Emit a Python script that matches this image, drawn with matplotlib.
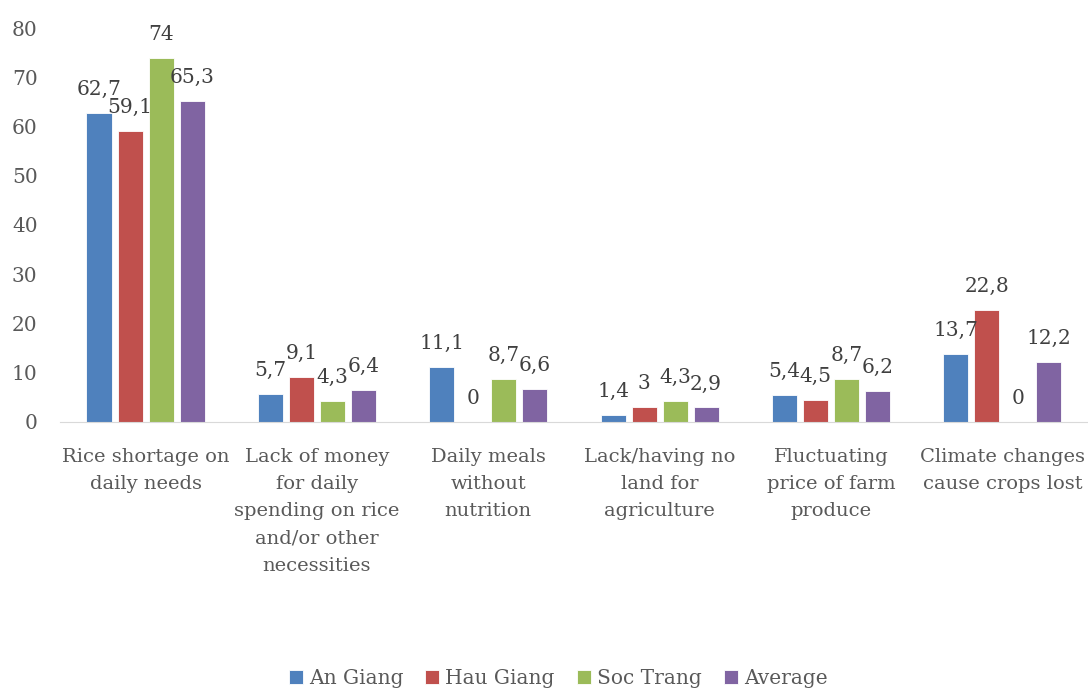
import numpy as np
import matplotlib.pyplot as plt

plt.rcParams['font.family'] = ['DejaVu Serif']

categories = ["Rice shortage on\ndaily needs",
              "Lack of money\nfor daily\nspending on rice\nand/or other\nnecessities",
              "Daily meals\nwithout\nnutrition",
              "Lack/having no\nland for\nagriculture",
              "Fluctuating\nprice of farm\nproduce",
              "Climate changes\ncause crops lost"]
series = ["An Giang", "Hau Giang", "Soc Trang", "Average"]
an_giang = [62.7, 5.7, 11.1, 1.4, 5.4, 13.7]
hau_giang = [59.1, 9.1, 0, 3, 4.5, 22.8]
soc_trang = [74, 4.3, 8.7, 4.3, 8.7, 0]
average = [65.3, 6.4, 6.6, 2.9, 6.2, 12.2]
colors = ['#4F81BD', '#C0504D', '#9BBB59', '#8064A2']

fig = plt.figure(figsize=(10.88, 6.88), dpi=100)
ax = fig.add_axes([0.055, 0.387, 0.945, 0.572])

x = np.arange(len(categories))
width = 0.146
step = 0.181
text_color = '#404040'
for i, (name, vals) in enumerate(zip(series, [an_giang, hau_giang, soc_trang, average])):
    pos = x + (i - 1.5) * step
    ax.bar(pos, vals, width, color=colors[i], label=name, edgecolor='white', linewidth=0.6)
    for p, v in zip(pos, vals):
        lbl = f"{v:g}".replace('.', ',')
        ax.annotate(lbl, (p, v), xytext=(0, 13), textcoords='offset points',
                    ha='center', va='baseline', fontsize=14.5, color=text_color)

ax.set_xlim(-0.5, len(categories) - 0.5)
ax.set_ylim(0, 80)
ax.set_yticks(range(0, 81, 10))
ax.set_xticks(x)
ax.set_xticklabels(categories, fontsize=14, color='#595959', linespacing=1.65)
ax.tick_params(axis='y', length=0, labelsize=14.5, labelcolor='#595959', pad=16)
ax.tick_params(axis='x', length=0, pad=19)
for s in ['top', 'right', 'left']:
    ax.spines[s].set_visible(False)
ax.spines['bottom'].set_color('#D9D9D9')

fig.legend(loc='lower center', ncol=4, frameon=False, fontsize=14.5,
           bbox_to_anchor=(0.513, -0.026), handlelength=0.7, handleheight=0.7,
           handletextpad=0.3, columnspacing=1.1, labelcolor='#595959')

fig.savefig('out.png', dpi=100)
